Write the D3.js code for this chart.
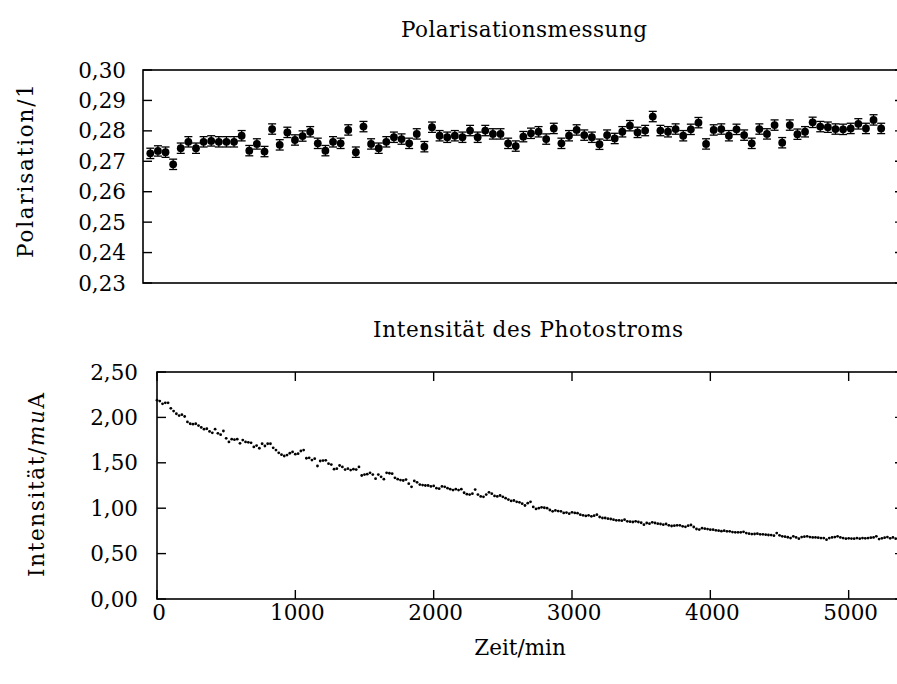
<!DOCTYPE html>
<html>
<head>
<meta charset="utf-8">
<script src="https://cdn.jsdelivr.net/npm/d3@7"></script>
<style>
  body { margin: 0; background: #fff; }
  svg { display: block; }
  text { font-family: "DejaVu Serif", serif; font-size: 21.5px; fill: #000; }
</style>
</head>
<body>
<svg id="chart" width="897" height="684"></svg>
<script>
// polarisation, one value per measurement block
const polValues = [
  0.2726, 0.2734, 0.2730, 0.2690, 0.2743, 0.2764, 0.2743, 0.2764, 0.2767, 0.2764,
  0.2764, 0.2764, 0.2784, 0.2735, 0.2757, 0.2732, 0.2806, 0.2754, 0.2795, 0.2770,
  0.2783, 0.2797, 0.2759, 0.2735, 0.2764, 0.2759, 0.2803, 0.2730, 0.2814, 0.2757,
  0.2743, 0.2764, 0.2779, 0.2773, 0.2759, 0.2790, 0.2748, 0.2812, 0.2784, 0.2779,
  0.2784, 0.2779, 0.2801, 0.2779, 0.2801, 0.2790, 0.2790, 0.2759, 0.2750, 0.2781,
  0.2792, 0.2797, 0.2773, 0.2808, 0.2759, 0.2784, 0.2803, 0.2786, 0.2779, 0.2756,
  0.2786, 0.2775, 0.2797, 0.2817, 0.2795, 0.2801, 0.2847, 0.2801, 0.2797, 0.2806,
  0.2784, 0.2805, 0.2827, 0.2757, 0.2803, 0.2806, 0.2784, 0.2805, 0.2786, 0.2759,
  0.2806, 0.2790, 0.2819, 0.2761, 0.2819, 0.2789, 0.2797, 0.2828, 0.2814, 0.2812,
  0.2806, 0.2805, 0.2808, 0.2823, 0.2808, 0.2836, 0.2808
];
const polError = 0.0017;

// photocurrent in µA, sampled every 20 min starting at 0
const sampleMinutes = 20;
const currentValues = [
  2.19, 2.18, 2.15, 2.16, 2.16, 2.10, 2.07, 2.04, 2.02, 2.03,
  2.01, 1.95, 1.93, 1.925, 1.93, 1.91, 1.89, 1.87, 1.875, 1.845,
  1.83, 1.87, 1.825, 1.81, 1.85, 1.77, 1.73, 1.76, 1.755, 1.76,
  1.715, 1.75, 1.73, 1.725, 1.72, 1.675, 1.69, 1.66, 1.71, 1.685,
  1.71, 1.71, 1.665, 1.64, 1.61, 1.59, 1.575, 1.585, 1.605, 1.62,
  1.595, 1.60, 1.63, 1.64, 1.55, 1.555, 1.53, 1.545, 1.465, 1.52,
  1.525, 1.527, 1.49, 1.48, 1.43, 1.435, 1.47, 1.455, 1.425, 1.435,
  1.42, 1.43, 1.425, 1.455, 1.36, 1.37, 1.375, 1.39, 1.37, 1.325,
  1.37, 1.345, 1.32, 1.39, 1.385, 1.38, 1.335, 1.32, 1.31, 1.305,
  1.315, 1.27, 1.235, 1.30, 1.285, 1.26, 1.255, 1.25, 1.25, 1.24,
  1.245, 1.22, 1.215, 1.24, 1.235, 1.22, 1.21, 1.20, 1.21, 1.20,
  1.21, 1.17, 1.155, 1.15, 1.16, 1.205, 1.15, 1.13, 1.125, 1.15,
  1.175, 1.16, 1.135, 1.13, 1.14, 1.125, 1.11, 1.095, 1.08, 1.085,
  1.07, 1.065, 1.05, 1.03, 1.055, 1.07,
  1.014, 0.992, 1.00, 1.01, 1.005, 1.00, 0.98, 0.966, 0.975, 0.968,
  0.966, 0.948, 0.952, 0.940, 0.955, 0.948, 0.945, 0.929, 0.922, 0.915,
  0.922, 0.911, 0.918, 0.929, 0.903, 0.892, 0.892, 0.885, 0.881, 0.874,
  0.867, 0.867, 0.863, 0.874, 0.856, 0.852, 0.848, 0.856, 0.848, 0.840,
  0.819, 0.837, 0.830, 0.844, 0.837, 0.830, 0.826, 0.819, 0.826, 0.811,
  0.804, 0.808, 0.811, 0.811, 0.800, 0.795, 0.808, 0.815, 0.793, 0.771,
  0.765, 0.780, 0.775, 0.770, 0.763, 0.763, 0.756, 0.752, 0.747, 0.752,
  0.745, 0.745, 0.737, 0.734, 0.734, 0.734, 0.740, 0.726, 0.719, 0.715,
  0.716, 0.719, 0.712, 0.712, 0.708, 0.705, 0.704, 0.697, 0.726, 0.701,
  0.690, 0.686, 0.680, 0.671, 0.690, 0.678, 0.664, 0.682, 0.686, 0.690,
  0.682, 0.678, 0.678, 0.675, 0.671, 0.671, 0.653, 0.671, 0.678, 0.682,
  0.690, 0.678, 0.671, 0.664, 0.668, 0.666, 0.664, 0.671, 0.664, 0.671,
  0.668, 0.671, 0.675, 0.678, 0.690, 0.660, 0.668, 0.675, 0.682, 0.668,
  0.678, 0.664
];

const polTicks = [0.23, 0.24, 0.25, 0.26, 0.27, 0.28, 0.29, 0.30];
const curTicks = [0, 0.5, 1.0, 1.5, 2.0, 2.5];
const timeTicks = [0, 1000, 2000, 3000, 4000, 5000];

const svg = d3.select('#chart');
const comma = d => d3.format('.2f')(d).replace('.', ',');
const tickLen = 9;

// ---- upper panel: polarisation ----
const upBox = { left: 143, right: 904, top: 70, bottom: 283 };
const xPol = d3.scaleLinear().domain([-0.96, 99.0]).range([upBox.left, upBox.right]);
const yPol = d3.scaleLinear().domain([0.23, 0.30]).range([upBox.bottom, upBox.top]);

const gUp = svg.append('g');
gUp.append('rect')
  .attr('x', upBox.left).attr('y', upBox.top)
  .attr('width', upBox.right - upBox.left).attr('height', upBox.bottom - upBox.top)
  .attr('fill', 'none').attr('stroke', '#000').attr('stroke-width', 1.6);

polTicks.forEach(v => {
  const y = yPol(v);
  gUp.append('line').attr('x1', upBox.left).attr('x2', upBox.left + tickLen)
    .attr('y1', y).attr('y2', y).attr('stroke', '#000').attr('stroke-width', 1.4);
  gUp.append('line').attr('x1', upBox.right).attr('x2', upBox.right - tickLen)
    .attr('y1', y).attr('y2', y).attr('stroke', '#000').attr('stroke-width', 1.4);
  gUp.append('text').attr('x', 126).attr('y', y + 7.5)
    .attr('text-anchor', 'end').text(comma(v));
});

const errG = gUp.append('g').attr('stroke', '#000').attr('stroke-width', 1.3);
polValues.forEach((v, i) => {
  const x = xPol(i);
  const y0 = yPol(v - polError), y1 = yPol(v + polError);
  errG.append('line').attr('x1', x).attr('x2', x).attr('y1', y0).attr('y2', y1);
  errG.append('line').attr('x1', x - 4).attr('x2', x + 4).attr('y1', y0).attr('y2', y0);
  errG.append('line').attr('x1', x - 4).attr('x2', x + 4).attr('y1', y1).attr('y2', y1);
});
gUp.selectAll('circle.pol').data(polValues).join('circle')
  .attr('class', 'pol')
  .attr('cx', (d, i) => xPol(i)).attr('cy', d => yPol(d))
  .attr('r', 3.9).attr('fill', '#000');

svg.append('text').attr('x', 524).attr('y', 37).attr('text-anchor', 'middle')
  .attr('textLength', 246).attr('lengthAdjust', 'spacing')
  .text('Polarisationsmessung');
svg.append('text')
  .attr('transform', 'translate(25,171) rotate(-90)')
  .attr('text-anchor', 'middle').attr('dy', '0.35em')
  .attr('font-size', 22.5).attr('textLength', 174).attr('lengthAdjust', 'spacing')
  .text('Polarisation/1');

// ---- lower panel: photocurrent ----
const lowBox = { left: 157, right: 904, top: 372, bottom: 599 };
const xTime = d3.scaleLinear().domain([0, 5400]).range([lowBox.left, lowBox.right]);
const yCur = d3.scaleLinear().domain([0, 2.5]).range([lowBox.bottom, lowBox.top]);

const gLow = svg.append('g');
gLow.append('rect')
  .attr('x', lowBox.left).attr('y', lowBox.top)
  .attr('width', lowBox.right - lowBox.left).attr('height', lowBox.bottom - lowBox.top)
  .attr('fill', 'none').attr('stroke', '#000').attr('stroke-width', 1.6);

curTicks.forEach(v => {
  const y = yCur(v);
  gLow.append('line').attr('x1', lowBox.left).attr('x2', lowBox.left + tickLen)
    .attr('y1', y).attr('y2', y).attr('stroke', '#000').attr('stroke-width', 1.4);
  gLow.append('line').attr('x1', lowBox.right).attr('x2', lowBox.right - tickLen)
    .attr('y1', y).attr('y2', y).attr('stroke', '#000').attr('stroke-width', 1.4);
  gLow.append('text').attr('x', 138).attr('y', y + 7.5)
    .attr('text-anchor', 'end').text(comma(v));
});

timeTicks.forEach(t => {
  const x = xTime(t);
  gLow.append('line').attr('x1', x).attr('x2', x)
    .attr('y1', lowBox.bottom).attr('y2', lowBox.bottom - tickLen)
    .attr('stroke', '#000').attr('stroke-width', 1.4);
  gLow.append('line').attr('x1', x).attr('x2', x)
    .attr('y1', lowBox.top).attr('y2', lowBox.top + tickLen)
    .attr('stroke', '#000').attr('stroke-width', 1.4);
  gLow.append('text').attr('x', x + 2).attr('y', 620)
    .attr('text-anchor', 'middle').text(t);
});

gLow.selectAll('circle.cur').data(currentValues).join('circle')
  .attr('class', 'cur')
  .attr('cx', (d, i) => xTime(i * sampleMinutes)).attr('cy', d => yCur(d))
  .attr('r', 1.4).attr('fill', '#000');

svg.append('text').attr('x', 528).attr('y', 337).attr('text-anchor', 'middle')
  .attr('textLength', 310).attr('lengthAdjust', 'spacing')
  .text('Intensität des Photostroms');
const yl = svg.append('text')
  .attr('transform', 'translate(36,485) rotate(-90)')
  .attr('text-anchor', 'middle').attr('dy', '0.35em')
  .attr('font-size', 22.5).attr('textLength', 184).attr('lengthAdjust', 'spacing');
yl.append('tspan').text('Intensität/');
yl.append('tspan').attr('font-style', 'italic').text('mu');
yl.append('tspan').text('A');

svg.append('text').attr('x', 520).attr('y', 655).attr('text-anchor', 'middle')
  .text('Zeit/min');
</script>
</body>
</html>
